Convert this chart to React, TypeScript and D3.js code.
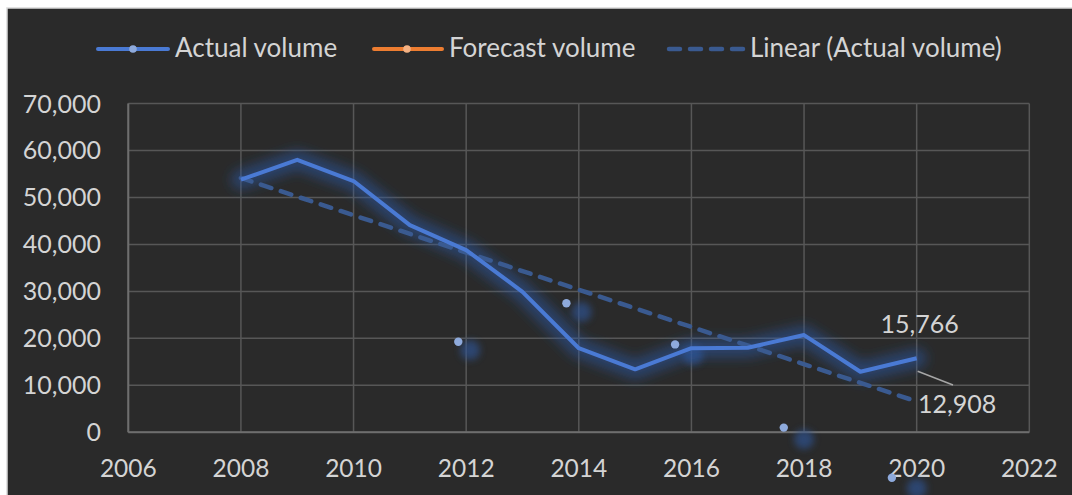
import React from "react";
import * as d3 from "d3";

const years = [2008, 2009, 2010, 2011, 2012, 2013, 2014, 2015, 2016, 2017, 2018, 2019, 2020];
const actualVolume = [53800, 58000, 53500, 44100, 38800, 29900, 17900, 13400, 17900, 18000, 20700, 12900, 15766];
const xTicks = [2006, 2008, 2010, 2012, 2014, 2016, 2018, 2020, 2022];
const yTicks = [0, 10000, 20000, 30000, 40000, 50000, 60000, 70000];
const lastLabel = 15766;
const forecastLabel = 12908;
// stray marker artefacts seen in the picture (data coordinates)
const ghostDotYears = [2011.86, 2013.78, 2015.71, 2017.64, 2019.56];
const ghostDotValues = [19270, 27460, 18710, 1000, -9670];
const ghostGlowYears = [2012.07, 2014.05, 2016.03, 2018.0, 2020.0];
const ghostGlowValues = [17500, 25600, 16430, -1490, -11950];

const legendItems = ["Actual volume", "Forecast volume", "Linear (Actual volume)"];

const W = 1072;
const H = 495;
const FONT = "Lato, 'Open Sans', sans-serif";
const TEXT = "#d4d4d4";

export default function App() {
  const x = d3.scaleLinear().domain([2006, 2022]).range([128.3, 1029.3]);
  const y = d3.scaleLinear().domain([0, 70000]).range([432.3, 103.5]);

  const pts = years.map((yr, i) => [yr, actualVolume[i]] as [number, number]);
  const line = d3
    .line<[number, number]>()
    .x((d) => x(d[0]))
    .y((d) => y(d[1]));

  // linear regression trendline
  const mx = d3.mean(years)!;
  const my = d3.mean(actualVolume)!;
  let sxy = 0;
  let sxx = 0;
  years.forEach((yr, i) => {
    sxy += (yr - mx) * (actualVolume[i] - my);
    sxx += (yr - mx) * (yr - mx);
  });
  const slope = sxy / sxx;
  const intercept = my - slope * mx;
  const x0 = years[0];
  const x1 = years[years.length - 1];
  const trend: [number, number][] = [
    [x0, intercept + slope * x0],
    [x1, intercept + slope * x1],
  ];

  const lastX = x(years[years.length - 1]);
  const lastY = y(actualVolume[actualVolume.length - 1]);

  return (
    <svg
      width={W}
      height={H}
      style={{ position: "absolute", left: 0, top: 0, background: "#ffffff" }}
      fontFamily={FONT}
    >
      <defs>
        <filter id="glow" x="-20%" y="-20%" width="140%" height="140%">
          <feGaussianBlur stdDeviation="6" />
        </filter>
        <filter id="blob" x="-100%" y="-100%" width="300%" height="300%">
          <feGaussianBlur stdDeviation="3.5" />
        </filter>
      </defs>
      <rect x={7} y={8} width={W + 20} height={H + 20} fill="#2a2a2a" stroke="#d9d9d9" strokeWidth={1.5} />

      {/* gridlines */}
      {yTicks.map((t) => (
        <line key={"gy" + t} x1={x(2006)} x2={x(2022)} y1={y(t)} y2={y(t)} stroke="#575757" strokeWidth={1.5} />
      ))}
      {xTicks.map((t) => (
        <line key={"gx" + t} x1={x(t)} x2={x(t)} y1={y(0)} y2={y(70000)} stroke="#575757" strokeWidth={1.5} />
      ))}
      {/* axes */}
      <line x1={x(2006)} x2={x(2006)} y1={y(0)} y2={y(70000)} stroke="#6e6e6e" strokeWidth={2} />
      <line x1={x(2006)} x2={x(2022)} y1={y(0)} y2={y(0)} stroke="#6e6e6e" strokeWidth={2} />

      {/* tick labels */}
      {yTicks.map((t) => (
        <text key={"ly" + t} x={101} y={y(t)} dy="0.36em" textAnchor="end" fill={TEXT} fontSize={25}>
          {d3.format(",")(t)}
        </text>
      ))}
      {xTicks.map((t) => (
        <text key={"lx" + t} x={x(t)} y={477} textAnchor="middle" fill={TEXT} fontSize={24.5}>
          {t}
        </text>
      ))}

      {/* ghost markers */}
      {ghostGlowYears.map((yr, i) => (
        <circle key={"gg" + i} cx={x(yr)} cy={y(ghostGlowValues[i])} r={10} fill="#2f5596" opacity={0.65} filter="url(#blob)" />
      ))}

      {/* actual line glow */}
      <path d={line(pts)!} fill="none" stroke="#2d5aa8" strokeWidth={20} strokeOpacity={0.5} strokeLinejoin="round" strokeLinecap="round" filter="url(#glow)" />

      {/* trendline */}
      <path d={line(trend)!} fill="none" stroke="#3a5a90" strokeWidth={4.5} strokeDasharray="11 10" strokeLinecap="round" />

      {/* actual line */}
      <path d={line(pts)!} fill="none" stroke="#4a7ad4" strokeWidth={4} strokeLinejoin="round" />

      {ghostDotYears.map((yr, i) => (
        <circle key={"gd" + i} cx={x(yr)} cy={y(ghostDotValues[i])} r={4.2} fill="#8eaadc" />
      ))}

      {/* data labels */}
      <text x={lastX + 3} y={333} textAnchor="middle" fill={TEXT} fontSize={25}>
        {d3.format(",")(lastLabel)}
      </text>
      <line x1={lastX + 1} y1={lastY + 13} x2={953} y2={385} stroke="#a6a6a6" strokeWidth={1.5} />
      <text x={918} y={413} textAnchor="start" fill={TEXT} fontSize={25}>
        {d3.format(",")(forecastLabel)}
      </text>

      {/* legend */}
      <g>
        <line x1={98} x2={168} y1={49} y2={49} stroke="#4a7ad4" strokeWidth={4} strokeLinecap="round" />
        <circle cx={133} cy={49} r={3.8} fill="#8eaadc" />
        <text x={175} y={57} fill={TEXT} fontSize={26}>{legendItems[0]}</text>

        <line x1={374} x2={442} y1={49} y2={49} stroke="#ed7d31" strokeWidth={4} strokeLinecap="round" />
        <circle cx={407} cy={49} r={3.8} fill="#f4b183" />
        <text x={449} y={57} fill={TEXT} fontSize={26}>{legendItems[1]}</text>

        <line x1={669} x2={745} y1={49} y2={49} stroke="#3a5a90" strokeWidth={4.5} strokeDasharray="11 10" strokeLinecap="round" />
        <text x={750} y={57} fill={TEXT} fontSize={26}>{legendItems[2]}</text>
      </g>
    </svg>
  );
}
